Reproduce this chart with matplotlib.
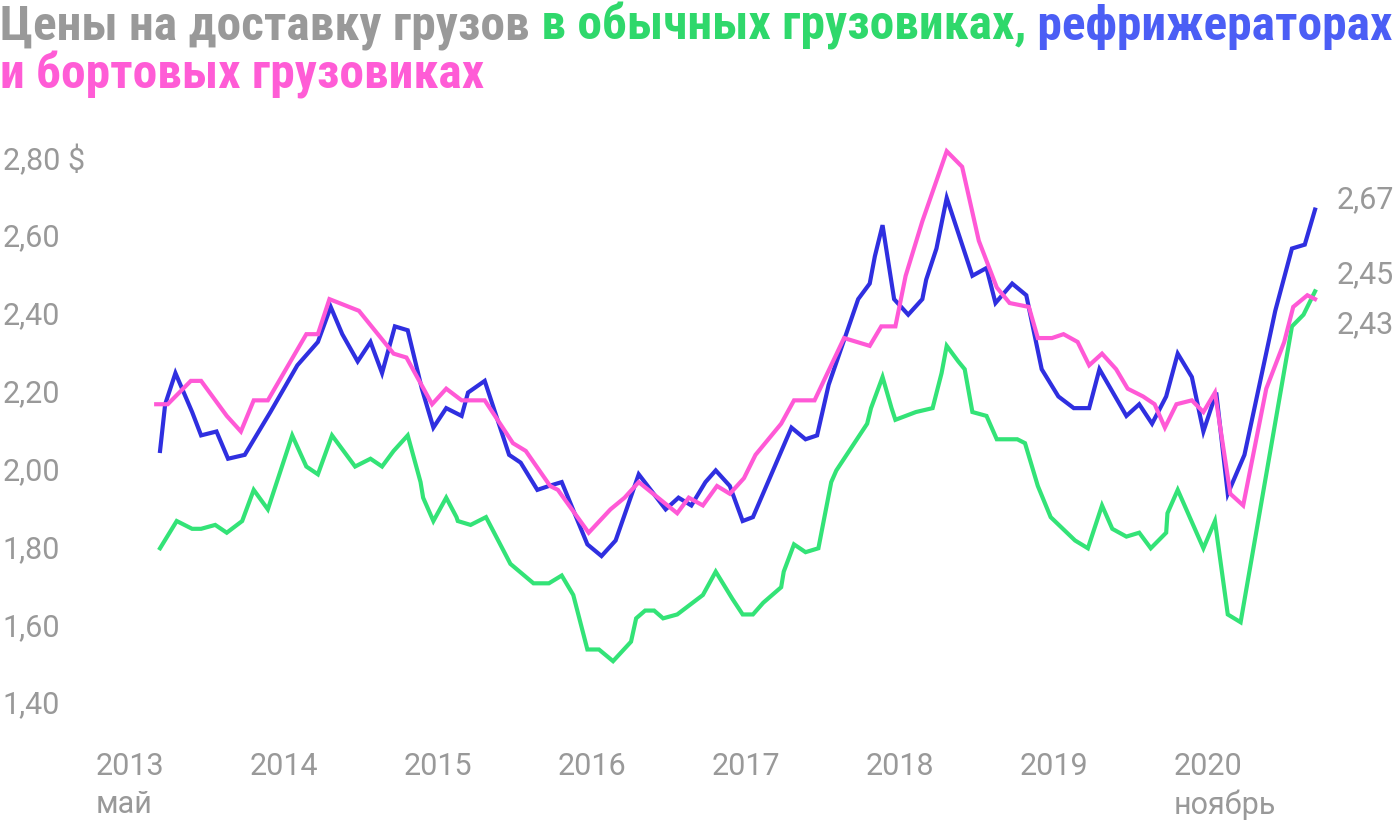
import matplotlib.pyplot as plt
from matplotlib import font_manager

# Месяцы от мая 2013 (0) до ноября 2020 (90), цены в $
blue_m = [0.0, 0.4, 1.2, 2.5, 3.2, 4.4, 5.3, 6.6, 8.6, 10.7, 12.3, 13.3, 14.2, 15.4, 16.4, 17.3,
          18.3, 19.3, 20.4, 21.3, 22.3, 23.5, 24.0, 25.3, 27.2, 28.1, 29.4, 30.3, 31.3, 33.3,
          34.4, 35.5, 37.3, 39.4, 40.4, 41.4, 42.5, 43.3, 44.4, 45.4, 46.2, 49.2, 50.3, 51.2,
          52.1, 54.4, 55.3, 55.7, 56.3, 57.2, 58.3, 59.4, 59.7, 60.5, 61.3, 62.3, 63.3, 64.4,
          65.1, 66.4, 67.5, 68.7, 70.0, 71.2, 72.4, 73.2, 75.3, 76.3, 77.3, 78.4, 79.3, 80.4,
          81.3, 82.3, 83.2, 84.5, 86.9, 88.2, 89.2, 90.0]
blue_v = [2.05, 2.17, 2.25, 2.15, 2.09, 2.10, 2.03, 2.04, 2.15, 2.27, 2.33, 2.42, 2.35, 2.28, 2.33, 2.25,
          2.37, 2.36, 2.21, 2.11, 2.16, 2.14, 2.20, 2.23, 2.04, 2.02, 1.95, 1.96, 1.97, 1.81,
          1.78, 1.82, 1.99, 1.90, 1.93, 1.91, 1.97, 2.00, 1.96, 1.87, 1.88, 2.11, 2.08, 2.09,
          2.22, 2.44, 2.48, 2.55, 2.63, 2.44, 2.40, 2.44, 2.49, 2.57, 2.70, 2.60, 2.50, 2.52,
          2.43, 2.48, 2.45, 2.26, 2.19, 2.16, 2.16, 2.26, 2.14, 2.17, 2.12, 2.19, 2.30, 2.24,
          2.10, 2.20, 1.94, 2.04, 2.41, 2.57, 2.58, 2.67]

pink_m = [-0.3, 0.6, 2.4, 3.2, 5.2, 6.3, 7.3, 8.4, 11.4, 12.3, 13.2, 15.5, 18.2, 19.2, 21.2, 22.3,
          23.5, 25.3, 27.5, 28.5, 30.4, 31.0, 33.4, 35.1, 36.2, 37.3, 40.3, 41.2, 42.3, 43.4,
          44.4, 45.5, 46.4, 48.4, 49.4, 51.0, 53.3, 55.3, 56.2, 57.3, 58.1, 59.4, 61.3, 62.5,
          63.8, 65.2, 66.2, 67.7, 68.4, 69.5, 70.4, 71.5, 72.4, 73.4, 74.5, 75.4, 76.6, 77.5,
          78.3, 79.2, 80.4, 81.3, 82.2, 83.4, 84.4, 86.2, 87.6, 88.3, 89.4, 90.0]
pink_v = [2.17, 2.17, 2.23, 2.23, 2.14, 2.10, 2.18, 2.18, 2.35, 2.35, 2.44, 2.41, 2.30, 2.29, 2.17, 2.21,
          2.18, 2.18, 2.07, 2.05, 1.96, 1.95, 1.84, 1.90, 1.93, 1.97, 1.89, 1.93, 1.91, 1.96,
          1.94, 1.98, 2.04, 2.12, 2.18, 2.18, 2.34, 2.32, 2.37, 2.37, 2.50, 2.64, 2.82, 2.78,
          2.59, 2.47, 2.43, 2.42, 2.34, 2.34, 2.35, 2.33, 2.27, 2.30, 2.26, 2.21, 2.19, 2.17,
          2.11, 2.17, 2.18, 2.15, 2.20, 1.94, 1.91, 2.21, 2.33, 2.42, 2.45, 2.44]

green_m = [0.0, 1.3, 2.5, 3.2, 4.3, 5.2, 6.4, 7.3, 8.4, 10.3, 11.4, 12.3, 13.4, 15.2, 16.4, 17.3,
           18.2, 19.3, 20.3, 20.5, 21.3, 22.3, 23.1, 23.2, 24.2, 25.4, 27.3, 29.1, 30.3, 31.3,
           32.2, 33.3, 34.2, 35.3, 36.7, 37.1, 37.8, 38.5, 39.2, 40.3, 42.3, 43.3, 44.6, 45.4,
           46.2, 47.0, 48.4, 48.6, 49.4, 50.3, 51.3, 52.3, 52.7, 55.1, 55.4, 56.3, 57.0, 57.3,
           58.9, 60.2, 60.9, 61.3, 62.2, 62.7, 63.3, 64.4, 65.2, 66.8, 67.4, 68.4, 69.4, 71.3,
           72.3, 73.4, 74.2, 75.3, 76.3, 77.2, 78.4, 78.5, 79.3, 81.3, 82.2, 83.2, 84.2, 88.2,
           89.1, 90.0]
green_v = [1.80, 1.87, 1.85, 1.85, 1.86, 1.84, 1.87, 1.95, 1.90, 2.09, 2.01, 1.99, 2.09, 2.01, 2.03, 2.01,
           2.05, 2.09, 1.97, 1.93, 1.87, 1.93, 1.88, 1.87, 1.86, 1.88, 1.76, 1.71, 1.71, 1.73,
           1.68, 1.54, 1.54, 1.51, 1.56, 1.62, 1.64, 1.64, 1.62, 1.63, 1.68, 1.74, 1.67, 1.63,
           1.63, 1.66, 1.70, 1.74, 1.81, 1.79, 1.80, 1.97, 2.00, 2.12, 2.16, 2.24, 2.16, 2.13,
           2.15, 2.16, 2.25, 2.32, 2.28, 2.26, 2.15, 2.14, 2.08, 2.08, 2.07, 1.96, 1.88, 1.82,
           1.80, 1.91, 1.85, 1.83, 1.84, 1.80, 1.84, 1.89, 1.95, 1.80, 1.87, 1.63, 1.61, 2.37,
           2.40, 2.46]

years = [2013, 2014, 2015, 2016, 2017, 2018, 2019, 2020]
y_ticks = [1.40, 1.60, 1.80, 2.00, 2.20, 2.40, 2.60, 2.80]
end_labels = ['2,67', '2,45', '2,43']

GRAY = '#999999'
C_GREEN = '#33e377'
C_BLUE = '#2f2fe0'
C_PINK = '#ff59d6'

names = {f.name for f in font_manager.fontManager.ttflist}
title_font, title_stretch = 'DejaVu Sans', 'condensed'
for cand in ['Roboto Condensed', 'Liberation Sans Narrow', 'Open Sans Condensed']:
    if cand in names:
        title_font, title_stretch = cand, 'normal'
        break
label_font = 'Roboto' if 'Roboto' in names else 'DejaVu Sans'

fig = plt.figure(figsize=(14, 8.28), dpi=100)
ax = fig.add_axes([0, 0, 1, 1])
ax.set_xlim(-12.47, 96.62)
ax.set_ylim(1.084, 3.211)
ax.axis('off')

ax.plot(green_m, green_v, color=C_GREEN, lw=3, solid_joinstyle='miter')
ax.plot(blue_m, blue_v, color=C_BLUE, lw=3, solid_joinstyle='miter')
ax.plot(pink_m, pink_v, color=C_PINK, lw=3, solid_joinstyle='miter')

lbl = dict(color=GRAY, fontsize=22, family=label_font)

# подписи оси Y
ytr = ax.get_yaxis_transform()
for v in y_ticks:
    s = f'{v:.2f}'.replace('.', ',')
    if v == y_ticks[-1]:
        s += ' $'
    ax.text(0.002, v, s, transform=ytr, ha='left', va='center', **lbl)

# подписи годов
xtr = ax.get_xaxis_transform()
for y in years:
    jan = (y - 2013) * 12 - 4
    ax.text(jan - 1, 0.074, str(y), transform=xtr, ha='left', va='center', **lbl)
ax.text(-5, 0.028, 'май', transform=xtr, ha='left', va='center', **lbl)
ax.text(79, 0.028, 'ноябрь', transform=xtr, ha='left', va='center', **lbl)

# значения на конце линий
for s, yy in zip(end_labels, [2.697, 2.505, 2.376]):
    ax.text(91.7, yy, s, ha='left', va='center', **lbl)

# заголовок в несколько цветов
line1 = [('Цены на доставку грузов', GRAY), (' в обычных грузовиках,', '#2fd86b'),
         (' рефрижераторах', '#4b5ef5')]
line2 = [('и бортовых грузовиках', '#ff5cd6')]


def draw_line(pieces, y, size):
    r = fig.canvas.get_renderer()
    x = 0.0
    objs = []
    for s, c in pieces:
        t = fig.text(x, y, s, color=c, fontsize=size, fontweight='bold', family=title_font,
                     fontstretch=title_stretch, ha='left', va='baseline')
        x += t.get_window_extent(renderer=r).width / fig.bbox.width
        objs.append(t)
    return objs, x


objs, w = draw_line(line1, 0.9517, 30)
for t in objs:
    t.remove()
size = 30 * (1393 / 1400) / w
draw_line(line1, 0.9517, size)
draw_line(line2, 0.8937, size)

fig.savefig('out.png', dpi=100, facecolor='white')
